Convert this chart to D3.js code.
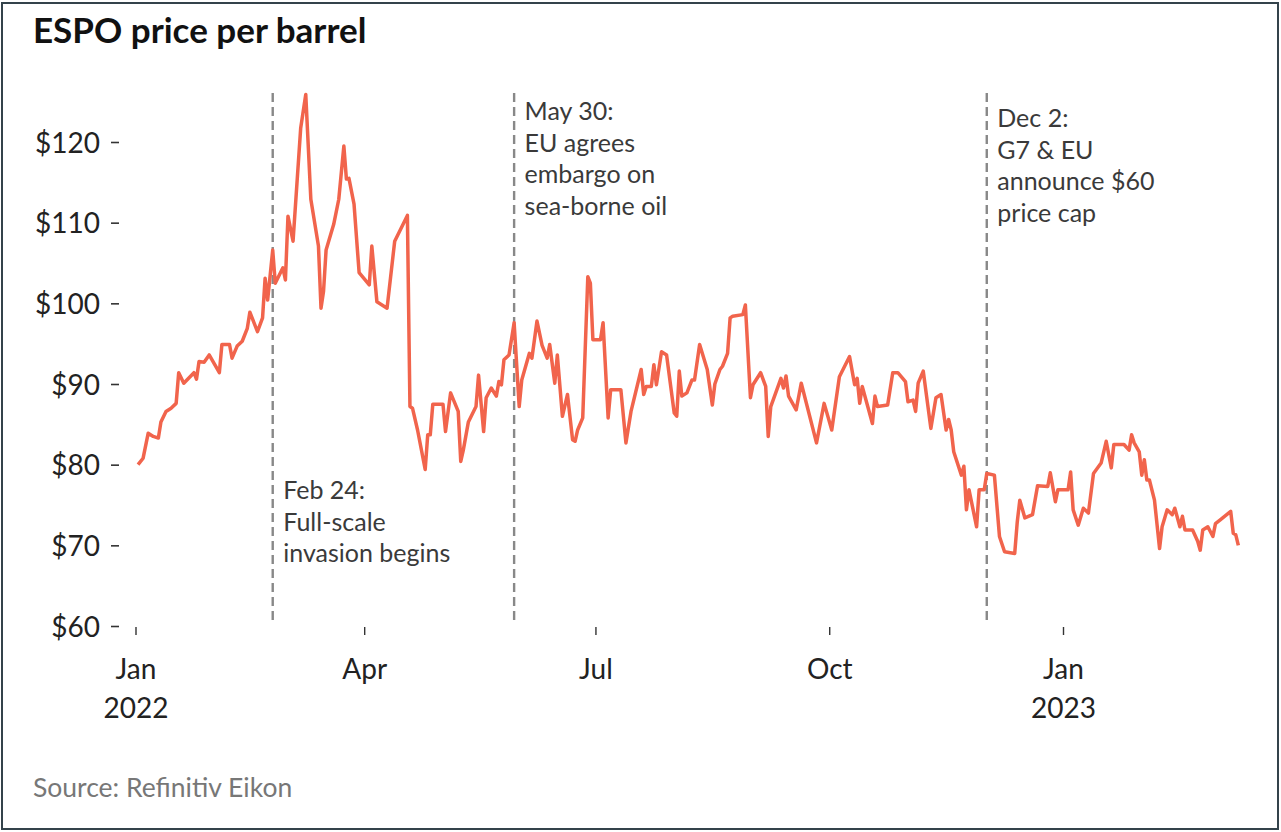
<!DOCTYPE html>
<html>
<head>
<meta charset="utf-8">
<script src="https://cdn.jsdelivr.net/npm/d3@7"></script>
<style>
  body { margin: 0; background: #fff; }
  svg { display: block; font-family: Lato, "Noto Sans", sans-serif; }
</style>
</head>
<body>
<div id="chart"></div>
<script>
// ESPO daily price
var dates = [
  "2022-01-02","2022-01-04","2022-01-06","2022-01-08","2022-01-10","2022-01-11","2022-01-13","2022-01-15",
  "2022-01-17","2022-01-18","2022-01-20","2022-01-24","2022-01-25","2022-01-26","2022-01-28","2022-01-30",
  "2022-02-03","2022-02-04","2022-02-07","2022-02-08","2022-02-10","2022-02-12","2022-02-14","2022-02-15",
  "2022-02-18","2022-02-20","2022-02-21","2022-02-22","2022-02-24","2022-02-25","2022-02-28","2022-03-01",
  "2022-03-02","2022-03-04","2022-03-07","2022-03-09","2022-03-11","2022-03-14","2022-03-15","2022-03-16",
  "2022-03-17","2022-03-20","2022-03-22","2022-03-24","2022-03-25","2022-03-26","2022-03-28","2022-03-30",
  "2022-04-03","2022-04-04","2022-04-06","2022-04-10","2022-04-13","2022-04-18","2022-04-19","2022-04-20",
  "2022-04-22","2022-04-25","2022-04-26","2022-04-27","2022-04-28","2022-05-02","2022-05-03","2022-05-05",
  "2022-05-08","2022-05-09","2022-05-10","2022-05-12","2022-05-15","2022-05-16","2022-05-18","2022-05-19",
  "2022-05-21","2022-05-23","2022-05-24","2022-05-25","2022-05-26","2022-05-28","2022-05-30","2022-06-01",
  "2022-06-02","2022-06-05","2022-06-06","2022-06-08","2022-06-10","2022-06-12","2022-06-13","2022-06-15",
  "2022-06-16","2022-06-18","2022-06-20","2022-06-22","2022-06-23","2022-06-24","2022-06-26","2022-06-28",
  "2022-06-29","2022-06-30","2022-07-03","2022-07-04","2022-07-06","2022-07-07","2022-07-11","2022-07-13",
  "2022-07-15","2022-07-19","2022-07-20","2022-07-21","2022-07-23","2022-07-24","2022-07-25","2022-07-27",
  "2022-07-29","2022-08-01","2022-08-02","2022-08-03","2022-08-04","2022-08-06","2022-08-08","2022-08-09",
  "2022-08-11","2022-08-14","2022-08-16","2022-08-17","2022-08-19","2022-08-20","2022-08-22","2022-08-23",
  "2022-08-24","2022-08-28","2022-08-29","2022-08-31","2022-09-01","2022-09-04","2022-09-06","2022-09-07",
  "2022-09-08","2022-09-12","2022-09-13","2022-09-14","2022-09-15","2022-09-18","2022-09-20","2022-09-26",
  "2022-09-29","2022-10-02","2022-10-05","2022-10-09","2022-10-11","2022-10-12","2022-10-13","2022-10-14",
  "2022-10-18","2022-10-19","2022-10-20","2022-10-24","2022-10-26","2022-10-28","2022-10-31","2022-11-01",
  "2022-11-03","2022-11-04","2022-11-05","2022-11-07","2022-11-10","2022-11-12","2022-11-14","2022-11-16",
  "2022-11-17","2022-11-18","2022-11-19","2022-11-22","2022-11-23","2022-11-24","2022-11-25","2022-11-28",
  "2022-11-29","2022-12-01","2022-12-02","2022-12-05","2022-12-07","2022-12-09","2022-12-13","2022-12-14",
  "2022-12-15","2022-12-17","2022-12-20","2022-12-22","2022-12-26","2022-12-27","2022-12-29","2022-12-30",
  "2023-01-03","2023-01-04","2023-01-05","2023-01-07","2023-01-09","2023-01-11","2023-01-13","2023-01-16",
  "2023-01-18","2023-01-20","2023-01-21","2023-01-25","2023-01-27","2023-01-28","2023-01-29","2023-01-31",
  "2023-02-01","2023-02-02","2023-02-03","2023-02-04","2023-02-06","2023-02-08","2023-02-09","2023-02-11",
  "2023-02-13","2023-02-14","2023-02-16","2023-02-17","2023-02-18","2023-02-21","2023-02-23","2023-02-24",
  "2023-02-25","2023-02-27","2023-03-01","2023-03-02","2023-03-04","2023-03-08","2023-03-09","2023-03-10",
  "2023-03-11"
];
var prices = [
  80.0, 80.8, 83.9, 83.5, 83.3, 85.3, 86.6, 87.0,
  87.6, 91.4, 90.1, 91.4, 90.6, 92.8, 92.7, 93.6,
  91.4, 94.9, 94.9, 93.2, 94.7, 95.3, 96.9, 98.9,
  96.5, 98.2, 103.1, 100.4, 106.6, 102.5, 104.4, 102.9,
  110.8, 107.7, 121.7, 125.9, 112.9, 107.1, 99.4, 101.5,
  106.6, 109.8, 112.9, 119.5, 115.4, 115.5, 112.3, 103.8,
  102.3, 107.1, 100.2, 99.4, 107.7, 110.9, 87.2, 87.0,
  84.3, 79.4, 83.7, 83.7, 87.5, 87.5, 84.1, 88.9,
  86.6, 80.4, 81.8, 85.3, 87.2, 91.1, 84.1, 88.3,
  89.5, 88.5, 90.3, 89.9, 93.0, 93.6, 97.6, 87.2,
  90.5, 93.8, 93.2, 97.8, 94.8, 93.2, 94.9, 90.1,
  93.6, 86.0, 88.7, 83.1, 82.9, 84.3, 85.8, 103.3,
  102.5, 95.5, 95.5, 97.6, 85.8, 89.3, 89.3, 82.7,
  86.6, 91.8, 88.7, 89.7, 89.7, 92.4, 89.9, 94.0,
  93.6, 86.4, 86.0, 91.6, 88.5, 88.9, 90.5, 90.5,
  94.9, 91.8, 87.4, 90.0, 91.8, 92.2, 93.8, 98.2,
  98.4, 98.6, 99.8, 88.3, 89.9, 91.4, 89.7, 83.5,
  87.2, 90.7, 89.5, 91.0, 88.5, 86.8, 90.1, 82.7,
  87.6, 84.3, 90.9, 93.4, 89.9, 90.7, 87.6, 89.7,
  85.1, 88.5, 87.2, 87.4, 91.4, 91.4, 90.3, 87.8,
  88.0, 86.6, 90.1, 91.6, 84.5, 88.3, 88.7, 84.3,
  85.6, 84.3, 81.6, 78.7, 79.8, 74.4, 76.9, 72.3,
  76.9, 76.9, 78.9, 78.7, 71.1, 69.2, 69.0, 72.9,
  75.6, 73.4, 73.8, 77.4, 77.3, 79.0, 75.4, 76.9,
  76.9, 79.1, 74.4, 72.5, 74.6, 74.0, 78.9, 80.2,
  82.9, 79.6, 82.5, 82.5, 81.8, 83.7, 82.7, 81.6,
  78.7, 80.6, 78.1, 78.1, 75.6, 69.6, 72.3, 74.4,
  73.8, 74.6, 72.3, 73.6, 71.9, 71.9, 70.5, 69.4,
  71.9, 72.3, 71.1, 72.7, 73.2, 74.2, 71.5, 71.3,
  70.0
];

// axis ticks
var yTicks = [60, 70, 80, 90, 100, 110, 120];
var xTicks = ["2022-01-01", "2022-04-01", "2022-07-01", "2022-10-01", "2023-01-01"];

// event markers
var eventDates = ["2022-02-24", "2022-05-30", "2022-12-02"];
var eventLabels = [
  ["Feb 24:", "Full-scale", "invasion begins"],
  ["May 30:", "EU agrees", "embargo on", "sea-borne oil"],
  ["Dec 2:", "G7 & EU", "announce $60", "price cap"]
];

var svgWidth = 1281;
var svgHeight = 832;

var parse = d3.utcParse("%Y-%m-%d");
var data = dates.map(function(d, i) { return { date: parse(d), price: prices[i] }; });

var svg = d3.select("#chart")
  .append("svg")
  .attr("width", svgWidth)
  .attr("height", svgHeight);

// frame
svg.append("rect")
  .attr("x", 2)
  .attr("y", 3)
  .attr("width", 1276)
  .attr("height", 826)
  .attr("fill", "none")
  .attr("stroke", "#34434b")
  .attr("stroke-width", 2);

var xScale = d3.scaleUtc()
  .domain([parse("2022-01-01"), parse("2023-01-01")])
  .range([135.5, 1063]);

var yScale = d3.scaleLinear()
  .domain([60, 120])
  .range([626, 142]);

// title
svg.append("text")
  .attr("x", 33)
  .attr("y", 43)
  .attr("font-size", 35)
  .attr("font-weight", 700)
  .attr("fill", "#111")
  .text("ESPO price per barrel");

// y axis
var yAxis = svg.append("g")
  .attr("transform", "translate(119,0)")
  .call(d3.axisLeft(yScale)
    .tickValues(yTicks)
    .tickSize(8)
    .tickPadding(11)
    .tickFormat(function(d) { return "$" + d; }));
yAxis.select(".domain").remove();
yAxis.selectAll(".tick line").attr("stroke", "#333").attr("stroke-width", 1.6);
yAxis.selectAll(".tick text")
  .attr("font-family", "Lato, sans-serif")
  .attr("font-size", 28)
  .attr("fill", "#222")
  .attr("dy", "0.36em");

// x axis
var xAxis = svg.append("g")
  .attr("transform", "translate(0,627)")
  .call(d3.axisBottom(xScale)
    .tickValues(xTicks.map(parse))
    .tickSize(8)
    .tickFormat(""));
xAxis.select(".domain").remove();
xAxis.selectAll(".tick line").attr("stroke", "#333").attr("stroke-width", 1.4);
xAxis.selectAll(".tick").each(function(d) {
  var t = d3.select(this).append("text")
    .attr("text-anchor", "middle")
    .attr("font-family", "Lato, sans-serif")
    .attr("font-size", 28)
    .attr("fill", "#222");
  t.append("tspan").attr("x", 0).attr("y", 52).text(d3.utcFormat("%b")(d));
  if (d.getUTCMonth() === 0) {
    t.append("tspan").attr("x", 0).attr("y", 91).text(d3.utcFormat("%Y")(d));
  }
});

// event lines and notes
eventDates.forEach(function(ed, i) {
  var ex = xScale(parse(ed));
  svg.append("line")
    .attr("x1", ex).attr("x2", ex)
    .attr("y1", 93).attr("y2", 625)
    .attr("stroke", "#888")
    .attr("stroke-width", 2.4)
    .attr("stroke-dasharray", "9,5");
});

var noteTop = [499, 120, 127];
eventLabels.forEach(function(lines, i) {
  var ex = xScale(parse(eventDates[i]));
  var t = svg.append("text")
    .attr("font-size", 25)
    .attr("fill", "#3a3a3a");
  lines.forEach(function(l, j) {
    t.append("tspan")
      .attr("x", ex + 10.5)
      .attr("y", noteTop[i] + j * 31.5)
      .text(l);
  });
});

// price line
var line = d3.line()
  .x(function(d) { return xScale(d.date); })
  .y(function(d) { return yScale(d.price); });

svg.append("path")
  .datum(data)
  .attr("fill", "none")
  .attr("stroke", "#f1644c")
  .attr("stroke-width", 3.5)
  .attr("stroke-linejoin", "round")
  .attr("d", line);

// source
svg.append("text")
  .attr("x", 33)
  .attr("y", 797)
  .attr("font-size", 26.5)
  .attr("fill", "#777")
  .text("Source: Refinitiv Eikon");
</script>
</body>
</html>
